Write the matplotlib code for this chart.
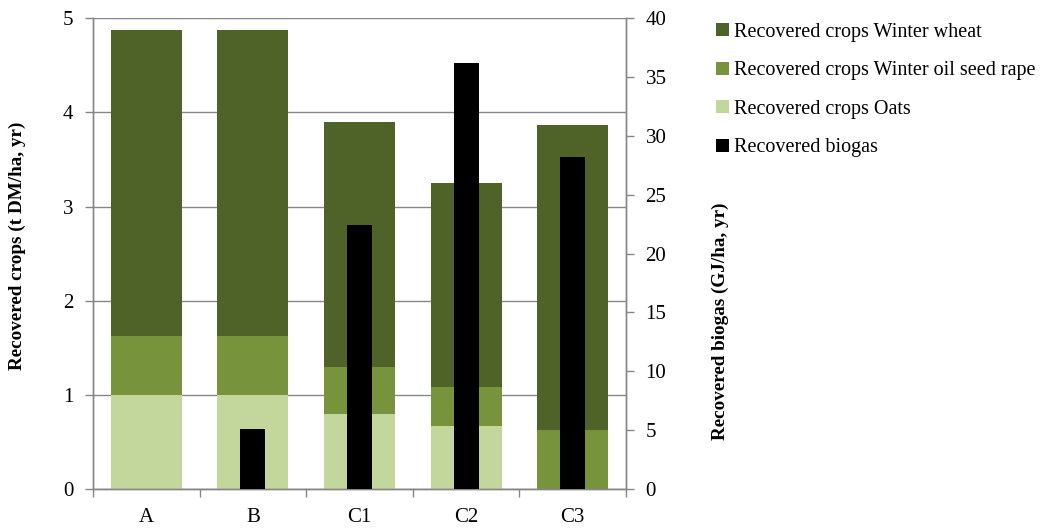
import numpy as np
import matplotlib.pyplot as plt

plt.rcParams['font.family'] = ['Liberation Serif', 'DejaVu Serif']

# scenarios and recovered amounts
scenarios = ['A', 'B', 'C1', 'C2', 'C3']
oats = [1.0, 1.0, 0.80, 0.665, 0.0]
rape = [0.62, 0.62, 0.50, 0.42, 0.627]
wheat = [3.255, 3.255, 2.60, 2.16, 3.24]
biogas = [0.0, 5.1, 22.4, 36.2, 28.2]

col_wheat = '#4F6228'
col_rape = '#77933C'
col_oats = '#C3D69B'
grid_col = '#868686'

fig = plt.figure(figsize=(10.43, 5.29), dpi=100)
ax = fig.add_axes([0.0892, 0.0756, 0.511, 0.890])
ax2 = ax.twinx()

x = np.arange(len(scenarios))
w = 0.667
bottom2 = np.array(oats) + np.array(rape)
b_oats = ax.bar(x, oats, w, color=col_oats, zorder=2)
b_rape = ax.bar(x, rape, w, bottom=oats, color=col_rape, zorder=2)
b_wheat = ax.bar(x, wheat, w, bottom=bottom2, color=col_wheat, zorder=2)
b_gas = ax2.bar(x, biogas, 0.235, color='black', zorder=3)

ax.set_xlim(-0.5, len(scenarios) - 0.5)
ax.set_ylim(0, 5)
ax2.set_ylim(0, 40)
ax.set_yticks(range(6))
ax2.set_yticks(range(0, 41, 5))
ax.yaxis.grid(True, color=grid_col, lw=1.0, zorder=0)
ax.set_axisbelow(True)

# category ticks sit between the bars
ax.set_xticks(x)
ax.set_xticklabels(scenarios)
ax.set_xticks(np.arange(-0.5, len(scenarios)), minor=True)
ax.tick_params(axis='x', which='major', length=0, pad=14, labelsize=15)
ax.tick_params(axis='x', which='minor', length=6, color=grid_col, width=1)
ax.tick_params(axis='y', length=6, color=grid_col, width=1, labelsize=15, pad=8)
ax2.tick_params(axis='y', length=6, color=grid_col, width=1, labelsize=15, pad=8)

for a in (ax, ax2):
    a.spines['top'].set_visible(False)
    for s in ('left', 'right', 'bottom'):
        a.spines[s].set_color(grid_col)
        a.spines[s].set_linewidth(1.0)

fig.text(0.017, 0.535, 'Recovered crops (t DM/ha, yr)', rotation=90,
         ha='center', va='center', fontsize=13.8, fontweight='bold')
fig.text(0.691, 0.393, 'Recovered biogas (GJ/ha, yr)', rotation=90,
         ha='center', va='center', fontsize=13.8, fontweight='bold')

fig.legend([b_wheat, b_rape, b_oats, b_gas],
           ['Recovered crops Winter wheat', 'Recovered crops Winter oil seed rape',
            'Recovered crops Oats', 'Recovered biogas'],
           loc='upper left', bbox_to_anchor=(0.679, 0.972), frameon=False,
           fontsize=14.5, handlelength=0.65, handleheight=0.6, handletextpad=0.22,
           labelspacing=0.97, borderaxespad=0)

fig.savefig('out.png', dpi=100)
